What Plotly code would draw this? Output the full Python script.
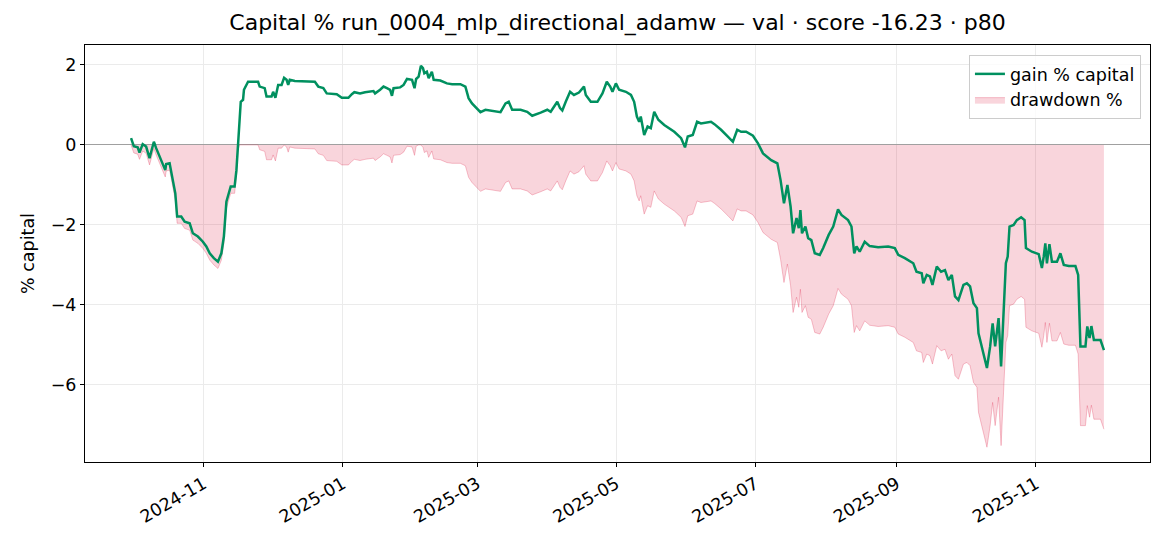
import numpy as np
import pandas as pd
import plotly.graph_objects as go

# equity curve (days since start, gain % of capital)
start_date = "2024-09-30"
day = [
    0.2, 1.4, 3.1, 3.9, 5.3, 6.8, 8.3, 9.0, 10.2, 11.2, 12.7, 14.1, 15.2, 15.6,
    17.1, 18.5, 19.6, 20.4, 22.2, 23.7, 25.9, 27.3, 29.5, 31.7, 33.2, 34.7,
    36.5, 38.3, 39.8, 40.9, 42.0, 43.9, 45.6, 46.4, 47.1, 47.8, 48.3, 49.3,
    49.7, 51.5, 53.7, 55.9, 56.6, 58.8, 59.6, 61.8, 62.5, 63.5, 64.7, 66.2,
    67.3, 68.4, 69.1, 69.8, 72.0, 80.8, 82.3, 84.5, 86.0, 90.4, 92.6, 95.5,
    97.0, 98.1, 100.6, 102.8, 106.5, 107.2, 109.4, 110.9, 112.4, 113.8, 114.6,
    115.3, 118.2, 119.7, 121.2, 123.4, 124.5, 125.2, 126.3, 127.3, 128.2,
    128.8, 129.9, 130.7, 132.1, 132.9, 135.8, 138.7, 141.0, 144.6, 146.8,
    148.2, 149.7, 151.9, 153.4, 155.6, 160.0, 162.2, 164.4, 165.8, 167.3,
    171.0, 173.9, 176.1, 179.8, 182.7, 184.2, 187.1, 188.3, 189.3, 190.8,
    192.7, 194.4, 196.6, 198.8, 199.6, 201.8, 204.7, 206.9, 208.8, 210.3,
    211.3, 212.8, 214.2, 217.2, 219.4, 220.8, 222.0, 223.0, 223.7, 225.2,
    226.7, 228.1, 229.6, 231.4, 234.0, 238.4, 241.4, 243.1, 244.3, 246.5,
    248.4, 250.1, 252.3, 254.5, 256.0, 258.9, 261.9, 264.1, 266.0, 267.7,
    269.9, 272.9, 275.1, 277.3, 280.9, 283.6, 285.0, 286.5, 288.0, 289.4,
    290.5, 292.0, 293.0, 293.7, 294.4, 295.9, 297.1, 298.5, 300.0, 302.2,
    303.7, 306.1, 308.1, 310.2, 311.7, 314.6, 316.1, 317.3, 318.3, 319.7,
    321.9, 324.1, 327.8, 332.2, 335.1, 336.6, 339.5, 343.2, 344.6, 346.9,
    347.6, 349.1, 350.5, 351.6, 353.5, 355.4, 357.1, 358.6, 360.1, 361.5,
    363.0, 365.2, 366.7, 368.1, 369.6, 371.1, 371.8, 373.3, 375.5, 376.9,
    378.0, 379.1, 380.6, 381.7, 382.8, 383.8, 384.6, 385.4, 387.2, 388.6,
    390.5, 392.0, 392.6, 395.2, 398.2, 399.6, 400.4, 401.1, 401.8, 402.9,
    404.0, 406.2, 407.7, 409.2, 411.4, 414.3, 415.5, 416.5, 418.7, 419.5,
    420.5, 421.3, 422.4, 425.3, 426.8,
]
gain_pct = [
    0.17, -0.03, -0.06, -0.19, 0.02, -0.04, -0.33, -0.17, 0.08, -0.08, -0.29,
    -0.48, -0.63, -0.48, -0.46, -0.88, -1.21, -1.79, -1.79, -1.92, -1.96,
    -2.21, -2.29, -2.42, -2.54, -2.71, -2.83, -2.92, -2.71, -2.29, -1.42,
    -1.04, -1.04, -0.63, 0.04, 0.46, 1.08, 1.13, 1.38, 1.58, 1.58, 1.58,
    1.46, 1.42, 1.21, 1.21, 1.33, 1.18, 1.50, 1.50, 1.68, 1.63, 1.50, 1.63,
    1.60, 1.58, 1.46, 1.42, 1.29, 1.27, 1.18, 1.18, 1.27, 1.32, 1.29, 1.32,
    1.35, 1.29, 1.38, 1.46, 1.42, 1.38, 1.23, 1.42, 1.44, 1.50, 1.65, 1.63,
    1.42, 1.65, 1.71, 1.98, 1.92, 1.79, 1.83, 1.67, 1.83, 1.63, 1.61, 1.54,
    1.52, 1.52, 1.46, 1.17, 1.04, 0.92, 0.82, 0.88, 0.83, 0.82, 1.04, 1.08,
    0.88, 0.88, 0.83, 0.73, 0.81, 0.88, 0.83, 1.08, 0.92, 0.86, 1.08, 1.33,
    1.25, 1.31, 1.46, 1.25, 1.08, 1.08, 1.29, 1.58, 1.46, 1.33, 1.54, 1.38,
    1.33, 1.25, 1.08, 0.71, 0.58, 0.71, 0.25, 0.46, 0.42, 0.83, 0.63, 0.50,
    0.33, 0.17, -0.06, 0.21, 0.25, 0.58, 0.54, 0.56, 0.58, 0.52, 0.38, 0.21,
    0.08, 0.38, 0.33, 0.33, 0.23, 0.04, -0.21, -0.38, -0.46, -0.88, -1.46,
    -1.00, -1.54, -2.21, -1.83, -2.08, -1.63, -2.21, -2.04, -2.33, -2.38,
    -2.71, -2.75, -2.58, -2.25, -2.04, -1.61, -1.75, -1.88, -2.04, -2.71,
    -2.54, -2.67, -2.42, -2.53, -2.56, -2.54, -2.58, -2.75, -2.83, -2.96,
    -3.17, -3.21, -3.46, -3.25, -3.29, -3.50, -3.04, -3.17, -3.13, -3.38,
    -3.25, -3.79, -3.88, -3.50, -3.46, -3.54, -3.96, -4.08, -4.71, -5.04,
    -5.58, -5.04, -4.46, -5.04, -4.33, -5.54, -4.13, -2.96, -2.79, -2.04,
    -2.00, -1.88, -1.81, -1.88, -2.58, -2.67, -2.73, -3.08, -2.79, -2.46,
    -2.96, -2.48, -2.92, -2.92, -2.71, -3.00, -3.03, -3.03, -3.25, -5.04,
    -5.04, -4.54, -4.83, -4.53, -4.88, -4.88, -5.13,
]

dates = pd.Timestamp(start_date) + pd.to_timedelta(day, unit="D")
gain = np.array(gain_pct)
# drawdown from running peak of the curve
drawdown = gain - np.maximum.accumulate(gain)

green = "#00905f"

fig = go.Figure()
fig.add_trace(go.Scatter(
    x=dates, y=drawdown, name="drawdown %", mode="lines",
    line=dict(color="rgba(220,20,60,0.25)", width=1),
    fill="tozeroy", fillcolor="rgba(220,20,60,0.18)",
))
fig.add_trace(go.Scatter(
    x=dates, y=gain, name="gain % capital", mode="lines",
    line=dict(color=green, width=2.5),
))

# page body adds 8px, margins are compensated for it
fig.update_layout(
    width=1170, height=546,
    paper_bgcolor="white", plot_bgcolor="white",
    margin=dict(l=77, r=28, t=37, b=92),
    font=dict(family="DejaVu Sans", size=17.5, color="black"),
    title=dict(text="Capital % run_0004_mlp_directional_adamw — val · score -16.23 · p80",
               xref="paper", x=0.5, xanchor="center", y=0.974, yanchor="middle",
               font=dict(size=22)),
    legend=dict(x=0.9915, y=0.976, xanchor="right", yanchor="top",
                bgcolor="rgba(255,255,255,0.8)", bordercolor="#cccccc",
                borderwidth=1, font=dict(size=17.5), traceorder="reversed"),
    showlegend=True,
    annotations=[dict(text="% capital", textangle=-90, x=-0.054, y=0.5,
                      xref="paper", yref="paper", xanchor="center",
                      yanchor="middle", showarrow=False, font=dict(size=17.5))],
)
fig.update_xaxes(
    range=["2024-09-10", "2025-12-21"], automargin=False,
    tick0="2024-11-01", dtick="M2", tickformat="%Y-%m", tickangle=-30,
    ticks="outside", ticklen=4, tickcolor="black",
    showline=True, linecolor="black", linewidth=1, mirror=True,
    showgrid=True, gridcolor="#ebebeb", zeroline=False,
)
fig.update_yaxes(
    range=[-7.93, 2.5], tickvals=[-6, -4, -2, 0, 2], automargin=False,
    ticks="outside", ticklen=4, tickcolor="black",
    showline=True, linecolor="black", linewidth=1, mirror=True,
    showgrid=True, gridcolor="#ebebeb",
    zeroline=True, zerolinecolor="#a0a0a0", zerolinewidth=1,
)

fig.write_html("out.html")
